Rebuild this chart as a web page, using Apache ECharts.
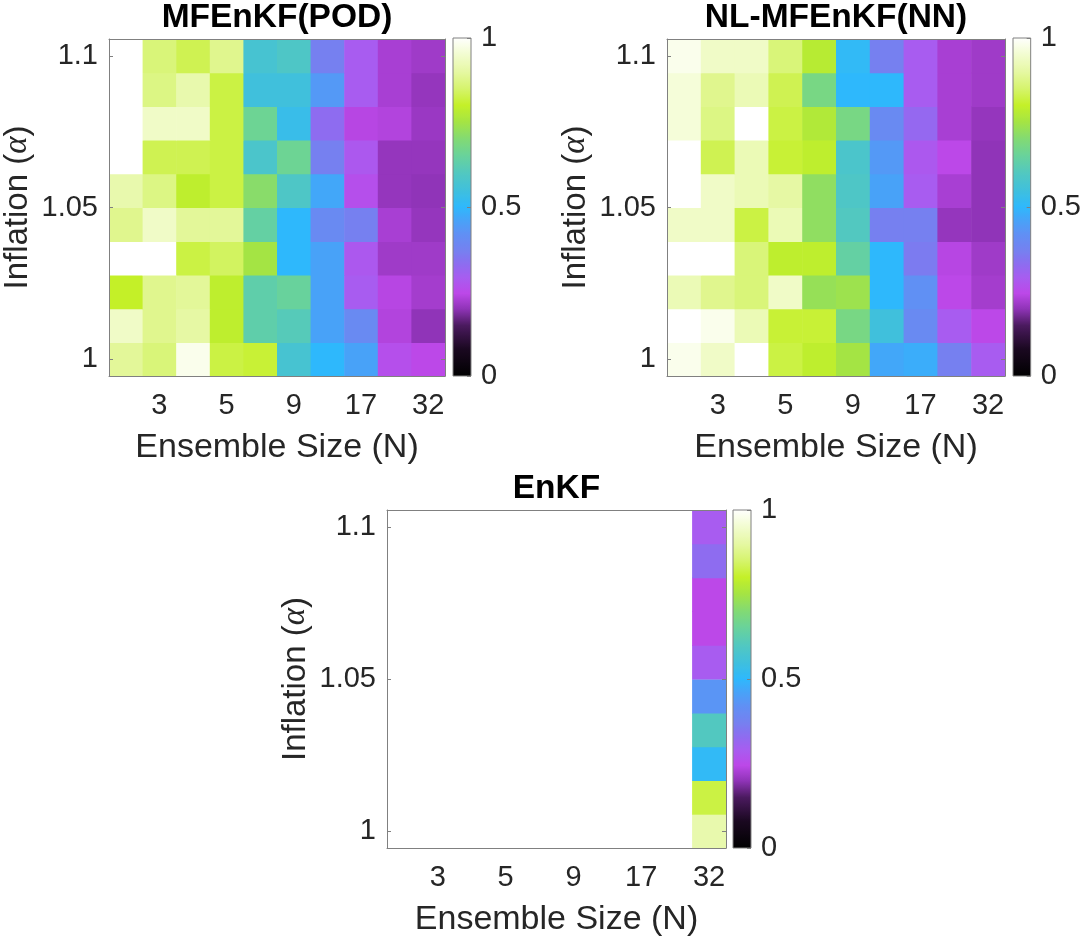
<!DOCTYPE html>
<html>
<head>
<meta charset="utf-8">
<script src="https://cdn.jsdelivr.net/npm/echarts@6/dist/echarts.min.js"></script>
<style>
  html, body { margin: 0; padding: 0; background: #fff; }
  #main { width: 1084px; height: 941px; }
</style>
</head>
<body>
<div id="main"></div>
<script>
// x: ensemble size N (only every other one is labelled), y: inflation alpha
const ensembleSizes = ['2', '3', '4', '5', '7', '9', '13', '17', '24', '32'];
const inflation = [1.0, 1.0111, 1.0222, 1.0333, 1.0444, 1.0556, 1.0667, 1.0778, 1.0889, 1.1];
const inflationTicks = [1, 1.05, 1.1];
const colorbarTicks = [0, 0.5, 1];

// rows go from alpha = 1 (bottom) to alpha = 1.1 (top), columns follow ensembleSizes
const podValues = [
  [0.89, 0.86, 0.98, 0.82, 0.81, 0.57, 0.50, 0.46, 0.26, 0.245],
  [0.94, 0.88, 0.90, 0.79, 0.63, 0.61, 0.46, 0.40, 0.235, 0.20],
  [0.80, 0.88, 0.89, 0.79, 0.63, 0.65, 0.46, 0.29, 0.24, 0.22],
  [1.00, 1.00, 0.82, 0.84, 0.75, 0.50, 0.46, 0.28, 0.215, 0.215],
  [0.88, 0.94, 0.89, 0.89, 0.64, 0.50, 0.40, 0.37, 0.225, 0.205],
  [0.91, 0.87, 0.79, 0.82, 0.71, 0.59, 0.47, 0.26, 0.205, 0.20],
  [1.00, 0.83, 0.83, 0.82, 0.58, 0.66, 0.37, 0.28, 0.205, 0.205],
  [1.00, 0.94, 0.94, 0.82, 0.66, 0.53, 0.33, 0.24, 0.235, 0.21],
  [1.00, 0.87, 0.91, 0.82, 0.55, 0.55, 0.44, 0.29, 0.225, 0.205],
  [1.00, 0.86, 0.83, 0.88, 0.57, 0.59, 0.37, 0.29, 0.225, 0.215]
];
const nnValues = [
  [0.98, 0.94, 1.00, 0.82, 0.79, 0.75, 0.47, 0.48, 0.37, 0.29],
  [1.00, 0.98, 0.92, 0.81, 0.81, 0.68, 0.55, 0.40, 0.29, 0.245],
  [0.92, 0.88, 0.86, 0.94, 0.73, 0.74, 0.50, 0.42, 0.245, 0.22],
  [1.00, 1.00, 0.86, 0.79, 0.79, 0.64, 0.50, 0.36, 0.24, 0.215],
  [0.94, 0.94, 0.82, 0.92, 0.72, 0.60, 0.37, 0.37, 0.205, 0.20],
  [1.00, 0.94, 0.92, 0.90, 0.72, 0.59, 0.46, 0.29, 0.225, 0.20],
  [1.00, 0.83, 0.92, 0.81, 0.79, 0.58, 0.44, 0.28, 0.245, 0.20],
  [0.96, 0.87, 1.00, 0.82, 0.77, 0.68, 0.40, 0.32, 0.225, 0.205],
  [0.96, 0.88, 0.92, 0.83, 0.68, 0.50, 0.50, 0.29, 0.225, 0.215],
  [0.98, 0.94, 0.94, 0.86, 0.78, 0.51, 0.37, 0.29, 0.225, 0.215]
];
// EnKF diverged everywhere except the largest ensemble
const enkfValues = [
  [null, null, null, null, null, null, null, null, null, 0.91],
  [null, null, null, null, null, null, null, null, null, 0.82],
  [null, null, null, null, null, null, null, null, null, 0.51],
  [null, null, null, null, null, null, null, null, null, 0.60],
  [null, null, null, null, null, null, null, null, null, 0.43],
  [null, null, null, null, null, null, null, null, null, 0.29],
  [null, null, null, null, null, null, null, null, null, 0.245],
  [null, null, null, null, null, null, null, null, null, 0.245],
  [null, null, null, null, null, null, null, null, null, 0.33],
  [null, null, null, null, null, null, null, null, null, 0.29]
];

// colormap (black -> purple -> blue -> green -> yellow -> white)
const cmapStops = [
  [0.00, '#000000'], [0.08, '#1a0820'], [0.15, '#4a1a5e'], [0.20, '#9034b8'],
  [0.245, '#bc48e8'], [0.29, '#a85cf0'], [0.33, '#8e6cf0'], [0.37, '#7680f0'],
  [0.42, '#6090f4'], [0.46, '#48a2f8'], [0.50, '#2eb8fc'], [0.55, '#40c0dc'],
  [0.60, '#52c8c0'], [0.65, '#68d29c'], [0.70, '#82da74'], [0.75, '#a4e444'],
  [0.80, '#c4f028'], [0.85, '#d6f46e'], [0.90, '#e6f8a4'], [0.95, '#f2fcd0'],
  [1.00, '#ffffff']
];

function hexToRgb(h) {
  return [parseInt(h.substr(1, 2), 16), parseInt(h.substr(3, 2), 16), parseInt(h.substr(5, 2), 16)];
}
function cmapAt(t) {
  for (let i = 1; i < cmapStops.length; i++) {
    const a = cmapStops[i - 1], b = cmapStops[i];
    if (t <= b[0]) {
      const f = (t - a[0]) / (b[0] - a[0]);
      const ca = hexToRgb(a[1]), cb = hexToRgb(b[1]);
      const c = ca.map((v, k) => Math.round(v + (cb[k] - v) * f));
      return 'rgb(' + c.join(',') + ')';
    }
  }
  return cmapStops[cmapStops.length - 1][1];
}
const colorList = [];
for (let i = 0; i <= 200; i++) colorList.push(cmapAt(i / 200));

const FONT = 'Liberation Sans, Arial, Helvetica, sans-serif';
const TXT = '#262626';
const LINE = '#808080';
const inflationStep = inflation[1] - inflation[0];
const yMin = inflation[0] - inflationStep / 2;
const yMax = inflation[inflation.length - 1] + inflationStep / 2;

const panels = [
  { title: 'MFEnKF(POD)', values: podValues, left: 108, top: 38, width: 337, height: 338, cbLeft: 453 },
  { title: 'NL-MFEnKF(NN)', values: nnValues, left: 667, top: 38, width: 338, height: 338, cbLeft: 1013 },
  { title: 'EnKF', values: enkfValues, left: 387, top: 510, width: 339, height: 338, cbLeft: 733 }
];

function oddIndex(i) { return i % 2 === 1; }

function renderCell(params, api) {
  const c = api.coord([api.value(0), api.value(1)]);
  const s = api.size([1, inflationStep]);
  return {
    type: 'rect',
    shape: { x: c[0] - s[0] / 2, y: c[1] - s[1] / 2, width: s[0] + 0.6, height: s[1] + 0.6 },
    style: { fill: api.visual('color') }
  };
}

const gradient = new echarts.graphic.LinearGradient(0, 1, 0, 0,
  colorList.map((c, i) => ({ offset: i / (colorList.length - 1), color: c })));

function renderColorbar(params, api) {
  const p0 = api.coord([0, 0]);
  const p1 = api.coord([1, 1]);
  return {
    type: 'rect',
    shape: { x: p0[0], y: p1[1], width: p1[0] - p0[0], height: p0[1] - p1[1] },
    style: { fill: gradient, stroke: LINE, lineWidth: 1 }
  };
}

const grid = [], xAxis = [], yAxis = [], series = [];
const tickStyle = { inside: true, length: 4, lineStyle: { color: LINE } };

panels.forEach(function (p, k) {
  grid.push({ left: p.left, top: p.top, width: p.width, height: p.height });
  grid.push({ left: p.cbLeft, top: p.top, width: 18, height: p.height });
  const g = 2 * k;

  xAxis.push({
    gridIndex: g, type: 'category', data: ensembleSizes, position: 'bottom', z: 10,
    axisLine: { onZero: false, lineStyle: { color: LINE } },
    axisTick: Object.assign({ alignWithLabel: true, interval: oddIndex }, tickStyle),
    axisLabel: { interval: oddIndex, margin: 15, fontSize: 29, color: TXT, fontFamily: FONT },
    name: 'Ensemble Size (N)', nameLocation: 'middle', nameGap: 55,
    nameTextStyle: { fontSize: 34, color: TXT, fontFamily: FONT }
  });
  xAxis.push({
    gridIndex: g, type: 'category', data: ensembleSizes, position: 'top', z: 10,
    axisLine: { onZero: false, lineStyle: { color: LINE } },
    axisTick: Object.assign({ alignWithLabel: true, interval: oddIndex }, tickStyle),
    axisLabel: { show: false },
    name: p.title, nameLocation: 'middle', nameGap: 4,
    nameTextStyle: { fontSize: 33.5, fontWeight: 'bold', color: '#000', fontFamily: FONT }
  });
  xAxis.push({ gridIndex: g + 1, type: 'value', min: 0, max: 1, show: false });

  yAxis.push({
    gridIndex: g, type: 'value', min: yMin, max: yMax, position: 'left', z: 10,
    axisLine: { show: true, onZero: false, lineStyle: { color: LINE } },
    axisTick: Object.assign({ show: true, customValues: inflationTicks }, tickStyle),
    axisLabel: { customValues: inflationTicks, margin: 11, fontSize: 29, color: TXT, fontFamily: FONT },
    splitLine: { show: false },
    name: '{t|Inflation (}{a|α}{t|)}', nameLocation: 'middle', nameGap: 75,
    nameTextStyle: {
      fontSize: 33, color: TXT, fontFamily: FONT,
      rich: {
        t: { fontSize: 33, color: TXT, fontFamily: FONT },
        a: { fontSize: 33, color: TXT, fontFamily: 'Liberation Serif, serif', fontStyle: 'italic' }
      }
    }
  });
  yAxis.push({
    gridIndex: g, type: 'value', min: yMin, max: yMax, position: 'right', z: 10,
    axisLine: { show: true, onZero: false, lineStyle: { color: LINE } },
    axisTick: Object.assign({ show: true, customValues: inflationTicks }, tickStyle),
    axisLabel: { show: false },
    splitLine: { show: false }
  });
  yAxis.push({
    gridIndex: g + 1, type: 'value', min: 0, max: 1, position: 'right', z: 10,
    axisLine: { show: false, onZero: false },
    axisTick: Object.assign({ show: true, customValues: colorbarTicks }, tickStyle),
    axisLabel: { customValues: colorbarTicks, margin: 10, fontSize: 29, color: TXT, fontFamily: FONT },
    splitLine: { show: false }
  });

  const cells = [];
  p.values.forEach(function (row, r) {
    row.forEach(function (v, c) {
      if (v !== null) cells.push([c, inflation[r], v]);
    });
  });
  series.push({
    type: 'custom', name: p.title, coordinateSystem: 'cartesian2d',
    xAxisIndex: 3 * k, yAxisIndex: 3 * k,
    renderItem: renderCell, encode: { x: 0, y: 1 }, data: cells, silent: true
  });
  series.push({
    type: 'custom', coordinateSystem: 'cartesian2d',
    xAxisIndex: 3 * k + 2, yAxisIndex: 3 * k + 2,
    renderItem: renderColorbar, data: [[0, 0]], silent: true
  });
});

const chart = echarts.init(document.getElementById('main'), null, { renderer: 'canvas' });
chart.setOption({
  animation: false,
  backgroundColor: '#ffffff',
  grid: grid,
  xAxis: xAxis,
  yAxis: yAxis,
  visualMap: {
    type: 'continuous', show: false, min: 0, max: 1, dimension: 2,
    seriesIndex: [0, 2, 4], inRange: { color: colorList }
  },
  series: series
});
</script>
</body>
</html>
